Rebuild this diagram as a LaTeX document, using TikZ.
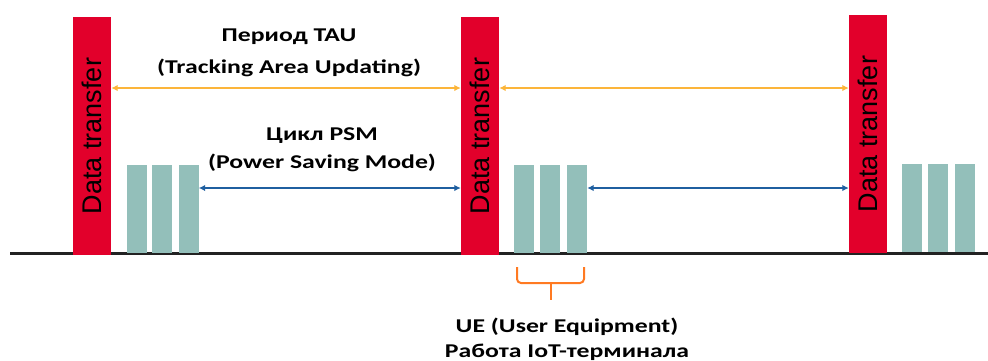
\documentclass[tikz,border=0pt]{standalone}
\usepackage{fontspec}
\setmainfont{Carlito}
\newfontfamily\barfont{Liberation Sans}
\usetikzlibrary{arrows.meta}
\definecolor{dtred}{HTML}{E2002B}
\definecolor{uegreen}{HTML}{93BFBA}
\definecolor{tauyellow}{HTML}{FCB53A}
\definecolor{psmblue}{HTML}{1F5FA0}
\definecolor{braceorange}{HTML}{FF7A22}
\definecolor{axisgray}{HTML}{222222}
\begin{document}
\begin{tikzpicture}[x=1pt,y=-1pt,
  databar/.style={fill=dtred, draw=none, minimum width=38pt, minimum height=238pt, inner sep=0pt},
  barlabel/.style={rotate=90, font=\barfont\fontsize{27}{27}\selectfont, text=black, inner sep=0pt},
  uebar/.style={fill=uegreen, draw=none, minimum width=20pt, minimum height=88pt, inner sep=0pt},
  caption/.style={font=\bfseries\fontsize{19.5}{22}\selectfont, xscale=1.32, text=black, anchor=base, inner sep=0pt},
  tauarrow/.style={draw=tauyellow, line width=2pt, {Latex[length=6.5pt,width=6.5pt]}-{Latex[length=6.5pt,width=6.5pt]}},
  psmarrow/.style={draw=psmblue, line width=2pt, {Latex[length=6.5pt,width=6.5pt]}-{Latex[length=6.5pt,width=6.5pt]}},
]
\useasboundingbox (0,0) rectangle (988,360);

% time axis
\coordinate (axisstart) at (10,253.5);
\coordinate (axisend) at (988,253.5);
\draw[axisgray, line width=3pt] (axisstart) -- (axisend);

% data transfer bursts
\node[databar] (bar1) at (92,136) {};
\node[databar] (bar2) at (480,136) {};
\node[databar] (bar3) at (868,134) {};
\node[barlabel] (lab1) at (bar1.center) {Data transfer};
\node[barlabel] (lab2) at (bar2.center) {Data transfer};
\node[barlabel] (lab3) at (bar3.center) {Data transfer};

% UE activity slots
\node[uebar] (ua1) at (136.5,209) {};
\node[uebar] (ua2) at (162,209) {};
\node[uebar] (ua3) at (188.5,209) {};
\node[uebar] (ub1) at (524,209) {};
\node[uebar] (ub2) at (550,209) {};
\node[uebar] (ub3) at (577,209) {};
\node[uebar] (uc1) at (912,208) {};
\node[uebar] (uc2) at (938,208) {};
\node[uebar] (uc3) at (965,208) {};

% TAU period arrows
\draw[tauarrow] ([yshift=48pt]bar1.east) -- ([yshift=48pt]bar2.west);
\draw[tauarrow] ([yshift=48pt]bar2.east) -- ([yshift=46pt]bar3.west);

% PSM cycle arrows
\draw[psmarrow] ([yshift=21pt]ua3.east) -- ([yshift=-52pt]bar2.west);
\draw[psmarrow] ([yshift=21pt]ub3.east) -- ([yshift=-54pt]bar3.west);

% captions
\node[caption] (tau) at (289,41.5) {Период TAU};
\node[caption] (tauexp) at (289,73) {(Tracking Area Updating)};
\node[caption] (psm) at (322,140) {Цикл PSM};
\node[caption] (psmexp) at (322,168) {(Power Saving Mode)};

% brace under the UE slots
\coordinate (brl) at (517,267);
\coordinate (brr) at (584,267);
\coordinate (brm) at (550.5,283);
\coordinate (brtip) at (550.5,300);
\draw[braceorange, line width=2pt, rounded corners=4pt] (brl) |- (brm) -| (brr);
\draw[braceorange, line width=2pt] (brm) -- (brtip);

\node[caption] (ue) at (567,332) {UE (User Equipment)};
\node[caption] (iot) at (567,357) {Работа IoT-терминала};
\end{tikzpicture}
\end{document}
